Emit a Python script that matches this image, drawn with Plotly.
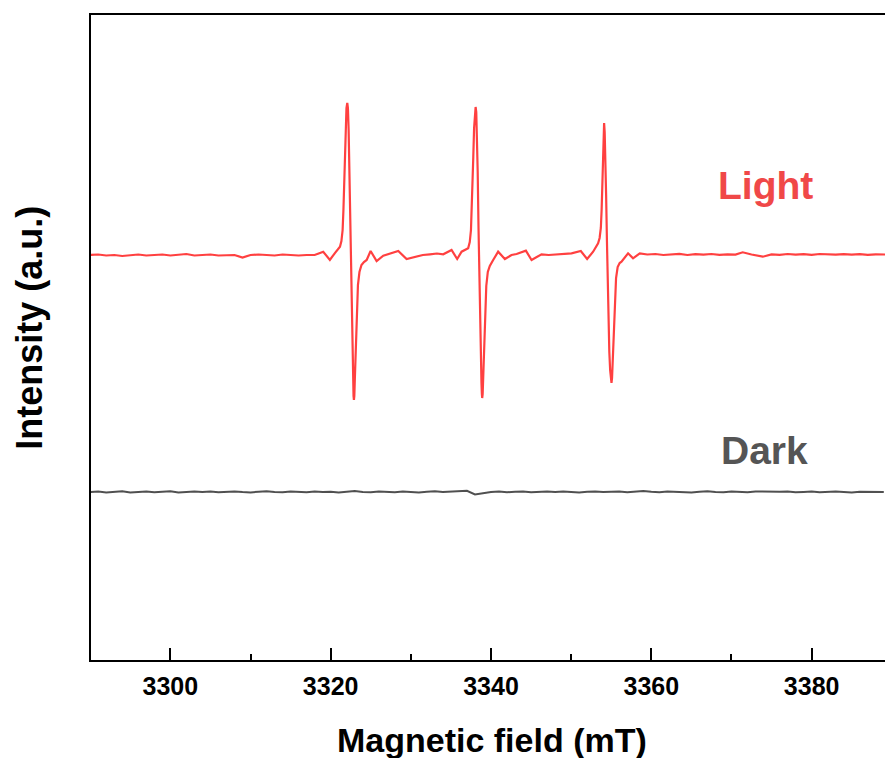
import plotly.graph_objects as go

# ---- data (magnetic field in mT, intensity in a.u.) ----
light_field = [
    3290, 3291, 3292, 3293, 3294, 3295, 3296, 3297, 3298, 3299,
    3300, 3301, 3302, 3303, 3304, 3305, 3306, 3307, 3308, 3309,
    3310, 3311, 3312, 3313, 3314, 3315, 3316, 3317, 3318,
    3319.07, 3319.9, 3320.5,
    # line 1
    3321.16, 3321.34, 3321.49, 3321.59, 3321.69, 3321.78, 3321.88, 3321.97, 3322.07, 3322.15,
    3322.24, 3322.33, 3322.43, 3322.53, 3322.63, 3322.73, 3322.80, 3322.85, 3322.90, 3322.95,
    3323.01, 3323.09, 3323.18, 3323.28, 3323.40, 3323.59, 3323.84, 3324.15, 3324.49,
    3324.98, 3325.73, 3326.56, 3327.39, 3328.43, 3329.47, 3330.72, 3331.5, 3332.38,
    3333.25, 3334.04, 3335.08, 3335.78, 3336.33,
    # line 2
    3337.15, 3337.35, 3337.50, 3337.60, 3337.70, 3337.79, 3337.89, 3337.98, 3338.08, 3338.16,
    3338.25, 3338.34, 3338.44, 3338.54, 3338.64, 3338.74, 3338.81, 3338.86, 3338.90, 3338.96,
    3339.02, 3339.10, 3339.19, 3339.29, 3339.41, 3339.60, 3339.85, 3340.27,
    3340.89, 3341.73, 3342.56, 3343.19, 3344.35, 3345.06, 3346.3, 3347.2, 3348.17, 3349.1,
    3350.04, 3351.2, 3351.99, 3352.74,
    # line 3
    3353.36, 3353.55, 3353.70, 3353.80, 3353.90, 3353.98, 3354.05, 3354.11, 3354.18, 3354.26,
    3354.36, 3354.46, 3354.56, 3354.66, 3354.76, 3354.86, 3354.94, 3355.03, 3355.10, 3355.17,
    3355.26, 3355.36, 3355.47, 3355.60, 3355.80, 3356.05, 3356.28,
    3357.1, 3357.72, 3358.56,
    3359.5, 3360.5, 3361.5, 3362.5, 3363.5, 3364.5, 3365.5, 3366.5, 3367.5, 3368.5,
    3369.5, 3370.5, 3371.4, 3372.5, 3373.9, 3375, 3376, 3377, 3378, 3379,
    3380, 3381, 3382, 3383, 3384, 3385, 3386, 3387, 3388, 3389.2,
]
light_intensity = [
    405, 405.5, 404.5, 405, 404, 405, 405.5, 404.5, 405, 405.5,
    404.5, 405, 406, 404.5, 405, 405.5, 404.5, 405, 405, 402.5,
    405, 405.5, 405, 404.5, 405.5, 405, 404.5, 405, 405,
    408.3, 400, 406.7,
    413.3, 419, 430, 450, 480, 505, 535, 552, 557, 552,
    530, 490, 435, 380, 330, 295, 275, 264, 260, 264,
    280, 305, 330, 355, 375, 388, 395, 398, 400,
    409, 399, 404.3, 406.7, 409, 401, 403.3, 405, 405.7,
    406.5, 405.7, 410, 401, 408.3,
    411.7, 418, 430, 450, 478, 503, 532, 549, 553, 548,
    527, 488, 433, 378, 330, 296, 277, 266, 262, 266,
    282, 306, 331, 355, 374, 388, 394, 400,
    408.3, 401, 405, 406, 409.3, 400, 405.7, 405, 405.7, 406.5,
    406.7, 409, 401, 408.3,
    416.7, 422, 432, 450, 475, 497, 522, 537, 528, 505,
    465, 420, 375, 337, 308, 290, 281, 277, 282, 296,
    318, 343, 365, 382, 393, 397, 398.3,
    406.7, 401.7, 406.7,
    405.5, 406, 405, 405.7, 406.2, 405, 405.8, 405.3, 406, 405.2,
    405.7, 405.4, 407.7, 405.5, 403.3, 405.6, 405.2, 406, 405.4, 405.8,
    405.2, 406, 405.5, 405.3, 405.9, 405.4, 405.8, 405.2, 405.6, 405.5,
]

dark_field = list(range(3290, 3390))
dark_intensity = [
    168, 168.5, 167.5, 168, 168.8, 167.6, 168.2, 168.6, 167.8, 168.3,
    168.7, 167.6, 168.1, 168.5, 167.9, 168.4, 167.7, 168.2, 168.6, 168.0,
    167.6, 168.3, 168.8, 168.1, 167.7, 168.4, 168.2, 167.8, 168.6, 168.0,
    168.3, 167.5, 168.2, 168.9, 168.0, 167.7, 168.5, 168.1, 167.8, 168.4,
    168.2, 167.6, 168.3, 168.7, 168.0, 168.4, 168.6, 169.2, 165.5, 167.0,
    168.0, 168.5, 167.8, 168.2, 168.6, 167.7, 168.1, 168.4, 167.9, 168.5,
    168.0, 167.6, 168.3, 168.6, 167.9, 168.2, 168.5, 167.8, 168.1, 168.9,
    168.2, 167.7, 168.4, 168.0, 168.3, 167.6, 168.2, 168.7, 168.0, 167.8,
    168.4, 168.1, 167.7, 168.5, 168.2, 167.9, 168.3, 168.6, 167.8, 168.1,
    168.4, 167.7, 168.2, 168.5, 168.0, 167.6, 168.3, 168.1, 168.4, 168.0,
]

x_ticks = [3300, 3320, 3340, 3360, 3380]
x_range = [3290.1, 3389.15]
y_range = [0, 645]

label_pos = {"Light": (3374.3, 475), "Dark": (3374.1, 210)}

RED = "#FF4040"
GRAY = "#505050"
FONT = "Liberation Sans, Arial, sans-serif"

fig = go.Figure()
fig.add_trace(go.Scatter(x=light_field, y=light_intensity, mode="lines",
                         name="Light", line=dict(color=RED, width=2.2)))
fig.add_trace(go.Scatter(x=dark_field, y=dark_intensity, mode="lines",
                         name="Dark", line=dict(color=GRAY, width=2)))

fig.add_annotation(x=label_pos["Light"][0], y=label_pos["Light"][1], text="Light",
                   showarrow=False, font=dict(family=FONT, size=39, color="#F04848", weight="bold"))
fig.add_annotation(x=label_pos["Dark"][0], y=label_pos["Dark"][1], text="Dark",
                   showarrow=False, font=dict(family=FONT, size=39, color="#555555", weight="bold"))

# axis titles placed as text in paper coordinates
fig.add_annotation(xref="paper", yref="paper", x=0.505, y=-0.124, text="Magnetic field (mT)",
                   showarrow=False, xanchor="center", yanchor="middle",
                   font=dict(family=FONT, size=34, color="black", weight="bold"))
fig.add_annotation(xref="paper", yref="paper", x=-0.077, y=0.515, text="Intensity (a.u.)",
                   showarrow=False, xanchor="center", yanchor="middle", textangle=-90,
                   font=dict(family=FONT, size=36, color="black", weight="bold"))

fig.update_layout(
    width=885, height=758,
    margin=dict(l=91, r=0, t=15, b=98),
    paper_bgcolor="white", plot_bgcolor="white",
    showlegend=False,
    font=dict(family=FONT, color="black"),
    xaxis=dict(
        range=x_range, tickvals=x_ticks, ticktext=[str(v) for v in x_ticks],
        ticks="inside", ticklen=12, tickwidth=2, tickcolor="black",
        minor=dict(dtick=10, tick0=3290, ticks="inside", ticklen=6, tickwidth=2, tickcolor="black"),
        showline=True, linecolor="black", linewidth=2, mirror=True,
        showgrid=False, zeroline=False,
        tickfont=dict(family=FONT, size=25, color="black", weight="bold"),
        ticklabelstandoff=3,
    ),
    yaxis=dict(
        range=y_range, showticklabels=False, ticks="",
        showline=True, linecolor="black", linewidth=2, mirror=False,
        showgrid=False, zeroline=False,
    ),
)

fig.write_html("out.html", config={"displayModeBar": False},
               post_script="document.body.style.margin='0';document.body.style.overflow='hidden';")
